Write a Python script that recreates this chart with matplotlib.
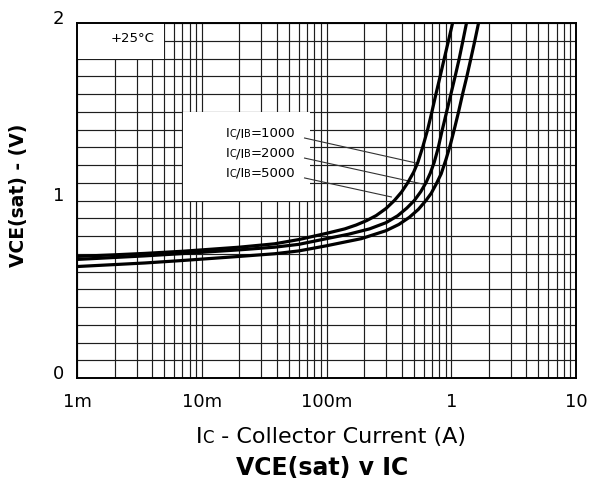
import matplotlib
matplotlib.use('Agg')
import matplotlib.pyplot as plt
from matplotlib.offsetbox import TextArea, HPacker, AnchoredOffsetbox, AnnotationBbox
from matplotlib.patches import Rectangle
from matplotlib.ticker import FixedLocator, LogLocator, MultipleLocator, NullFormatter
from matplotlib.transforms import ScaledTranslation

plt.rcParams['font.family'] = ['DejaVu Sans']

# ---- data ----
ic_a = [0.001, 0.002, 0.0035, 0.007, 0.0127, 0.02, 0.0384, 0.06, 0.1, 0.14, 0.173, 0.21, 0.25, 0.3, 0.35,
        0.4, 0.448, 0.5, 0.54, 0.59, 0.647, 0.7, 0.754, 0.815, 0.879, 0.95, 1.025]
vce_a = [0.685, 0.694, 0.702, 0.714, 0.727, 0.737, 0.756, 0.78, 0.815, 0.84, 0.862, 0.887, 0.915, 0.955, 1.0,
         1.048, 1.1, 1.16, 1.215, 1.3, 1.4, 1.5, 1.6, 1.7, 1.8, 1.9, 2.0]

ic_b = [0.001, 0.002, 0.0035, 0.007, 0.0127, 0.02, 0.0384, 0.06, 0.1, 0.15, 0.221, 0.3, 0.372, 0.44, 0.506,
        0.57, 0.627, 0.68, 0.73, 0.785, 0.842, 0.915, 0.994, 1.075, 1.159, 1.24, 1.325]
vce_b = [0.668, 0.679, 0.688, 0.701, 0.713, 0.722, 0.737, 0.753, 0.785, 0.81, 0.84, 0.875, 0.914, 0.957, 1.0,
         1.05, 1.1, 1.155, 1.215, 1.295, 1.39, 1.495, 1.6, 1.7, 1.8, 1.9, 2.0]

ic_c = [0.001, 0.002, 0.0035, 0.007, 0.0127, 0.02, 0.0384, 0.06, 0.1, 0.19, 0.3, 0.38, 0.461, 0.545, 0.627,
        0.69, 0.754, 0.83, 0.906, 0.98, 1.057, 1.145, 1.233, 1.335, 1.437, 1.545, 1.655]
vce_c = [0.628, 0.639, 0.648, 0.662, 0.675, 0.685, 0.7, 0.716, 0.745, 0.785, 0.83, 0.865, 0.905, 0.95, 1.0,
         1.04, 1.09, 1.15, 1.23, 1.31, 1.4, 1.5, 1.6, 1.7, 1.8, 1.9, 2.0]

x_ticks = [0.001, 0.01, 0.1, 1, 10]
x_tick_labels = ['1m', '10m', '100m', '1', '10']
y_ticks = [0, 1, 2]
y_tick_labels = ['0', '1', '2']

ratio_labels = ['1000', '2000', '5000']
label_pos = [(0.0565, 1.383), (0.0565, 1.27), (0.0565, 1.158)]
leader_start = [(0.0667, 1.352), (0.0667, 1.239), (0.0667, 1.127)]
leader_end = [(0.525, 1.211), (0.586, 1.093), (0.331, 1.020)]

# ---- figure ----
fig = plt.figure(figsize=(5.9, 4.89), dpi=100)
ax = fig.add_axes([77/590, 1-379/489, (576-77)/590, (379-24)/489])
ax.set_xscale('log')
ax.set_xlim(1e-3, 10)
ax.set_ylim(0, 2)

ax.xaxis.set_major_locator(FixedLocator(x_ticks))
ax.set_xticklabels(x_tick_labels)
ax.xaxis.set_minor_locator(LogLocator(base=10, subs=range(2, 10), numticks=50))
ax.xaxis.set_minor_formatter(NullFormatter())
ax.yaxis.set_major_locator(FixedLocator(y_ticks))
ax.set_yticklabels(y_tick_labels)
ax.yaxis.set_minor_locator(MultipleLocator(0.1))

ax.set_axisbelow(True)
ax.grid(which='both', color='#1e1e1e', lw=0.85)
ax.tick_params(which='both', length=0)
ax.tick_params(axis='x', labelsize=13, pad=10)
ax.tick_params(axis='y', labelsize=13, pad=9)
for lab in ax.get_yticklabels():
    lab.set_transform(lab.get_transform() + ScaledTranslation(0, 7/100, fig.dpi_scale_trans))
for s in ax.spines.values():
    s.set_linewidth(1.4)
    s.set_color('black')

# white label areas that hide the grid
ax.add_patch(Rectangle((0.001, 1.8), 0.0050-0.001, 0.2, facecolor='white', edgecolor='none', zorder=1))
ax.add_patch(Rectangle((0.00705, 1.0), 0.074-0.00705, 0.5, facecolor='white', edgecolor='none', zorder=1))

for xs, ys in [(ic_a, vce_a), (ic_b, vce_b), (ic_c, vce_c)]:
    ax.plot(xs, ys, color='black', lw=2.3, zorder=3, solid_capstyle='butt', solid_joinstyle='round')

for (x0, y0), (x1, y1) in zip(leader_start, leader_end):
    ax.plot([x0, x1], [y0, y1], color='#333333', lw=0.8, zorder=2.5)

def ratio_box(val):
    big, small = 9.5, 7
    parts = [TextArea('I', textprops=dict(size=big)),
             TextArea('C', textprops=dict(size=small)),
             TextArea('/I', textprops=dict(size=big)),
             TextArea('B', textprops=dict(size=small)),
             TextArea('=' + val, textprops=dict(size=big))]
    return HPacker(children=parts, align='baseline', pad=0, sep=0)

for val, (x, y) in zip(ratio_labels, label_pos):
    ab = AnnotationBbox(ratio_box(val), (x, y), xycoords='data', box_alignment=(1, 0.5),
                        frameon=False, pad=0, zorder=4)
    ax.add_artist(ab)

ax.text(0.00278, 1.921, '+25°C', fontsize=9.5, ha='center', va='center', zorder=4)

# x label with small-cap C
xl = HPacker(children=[TextArea('I', textprops=dict(size=16)),
                       TextArea('C', textprops=dict(size=12)),
                       TextArea(' - Collector Current (A)', textprops=dict(size=16))],
             align='baseline', pad=0, sep=0)
fig.add_artist(AnchoredOffsetbox(loc='center', child=xl, frameon=False, pad=0, borderpad=0,
                                 bbox_to_anchor=(331/590, 1-437/489), bbox_transform=fig.transFigure))

fig.text(322/590, 1-468/489, 'VCE(sat) v IC', fontsize=17, fontweight='bold', ha='center', va='center')
fig.text(19/590, 1-195/489, 'VCE(sat) - (V)', fontsize=13.5, fontweight='bold', rotation=90,
         ha='center', va='center')

fig.savefig('out.png', dpi=100)
